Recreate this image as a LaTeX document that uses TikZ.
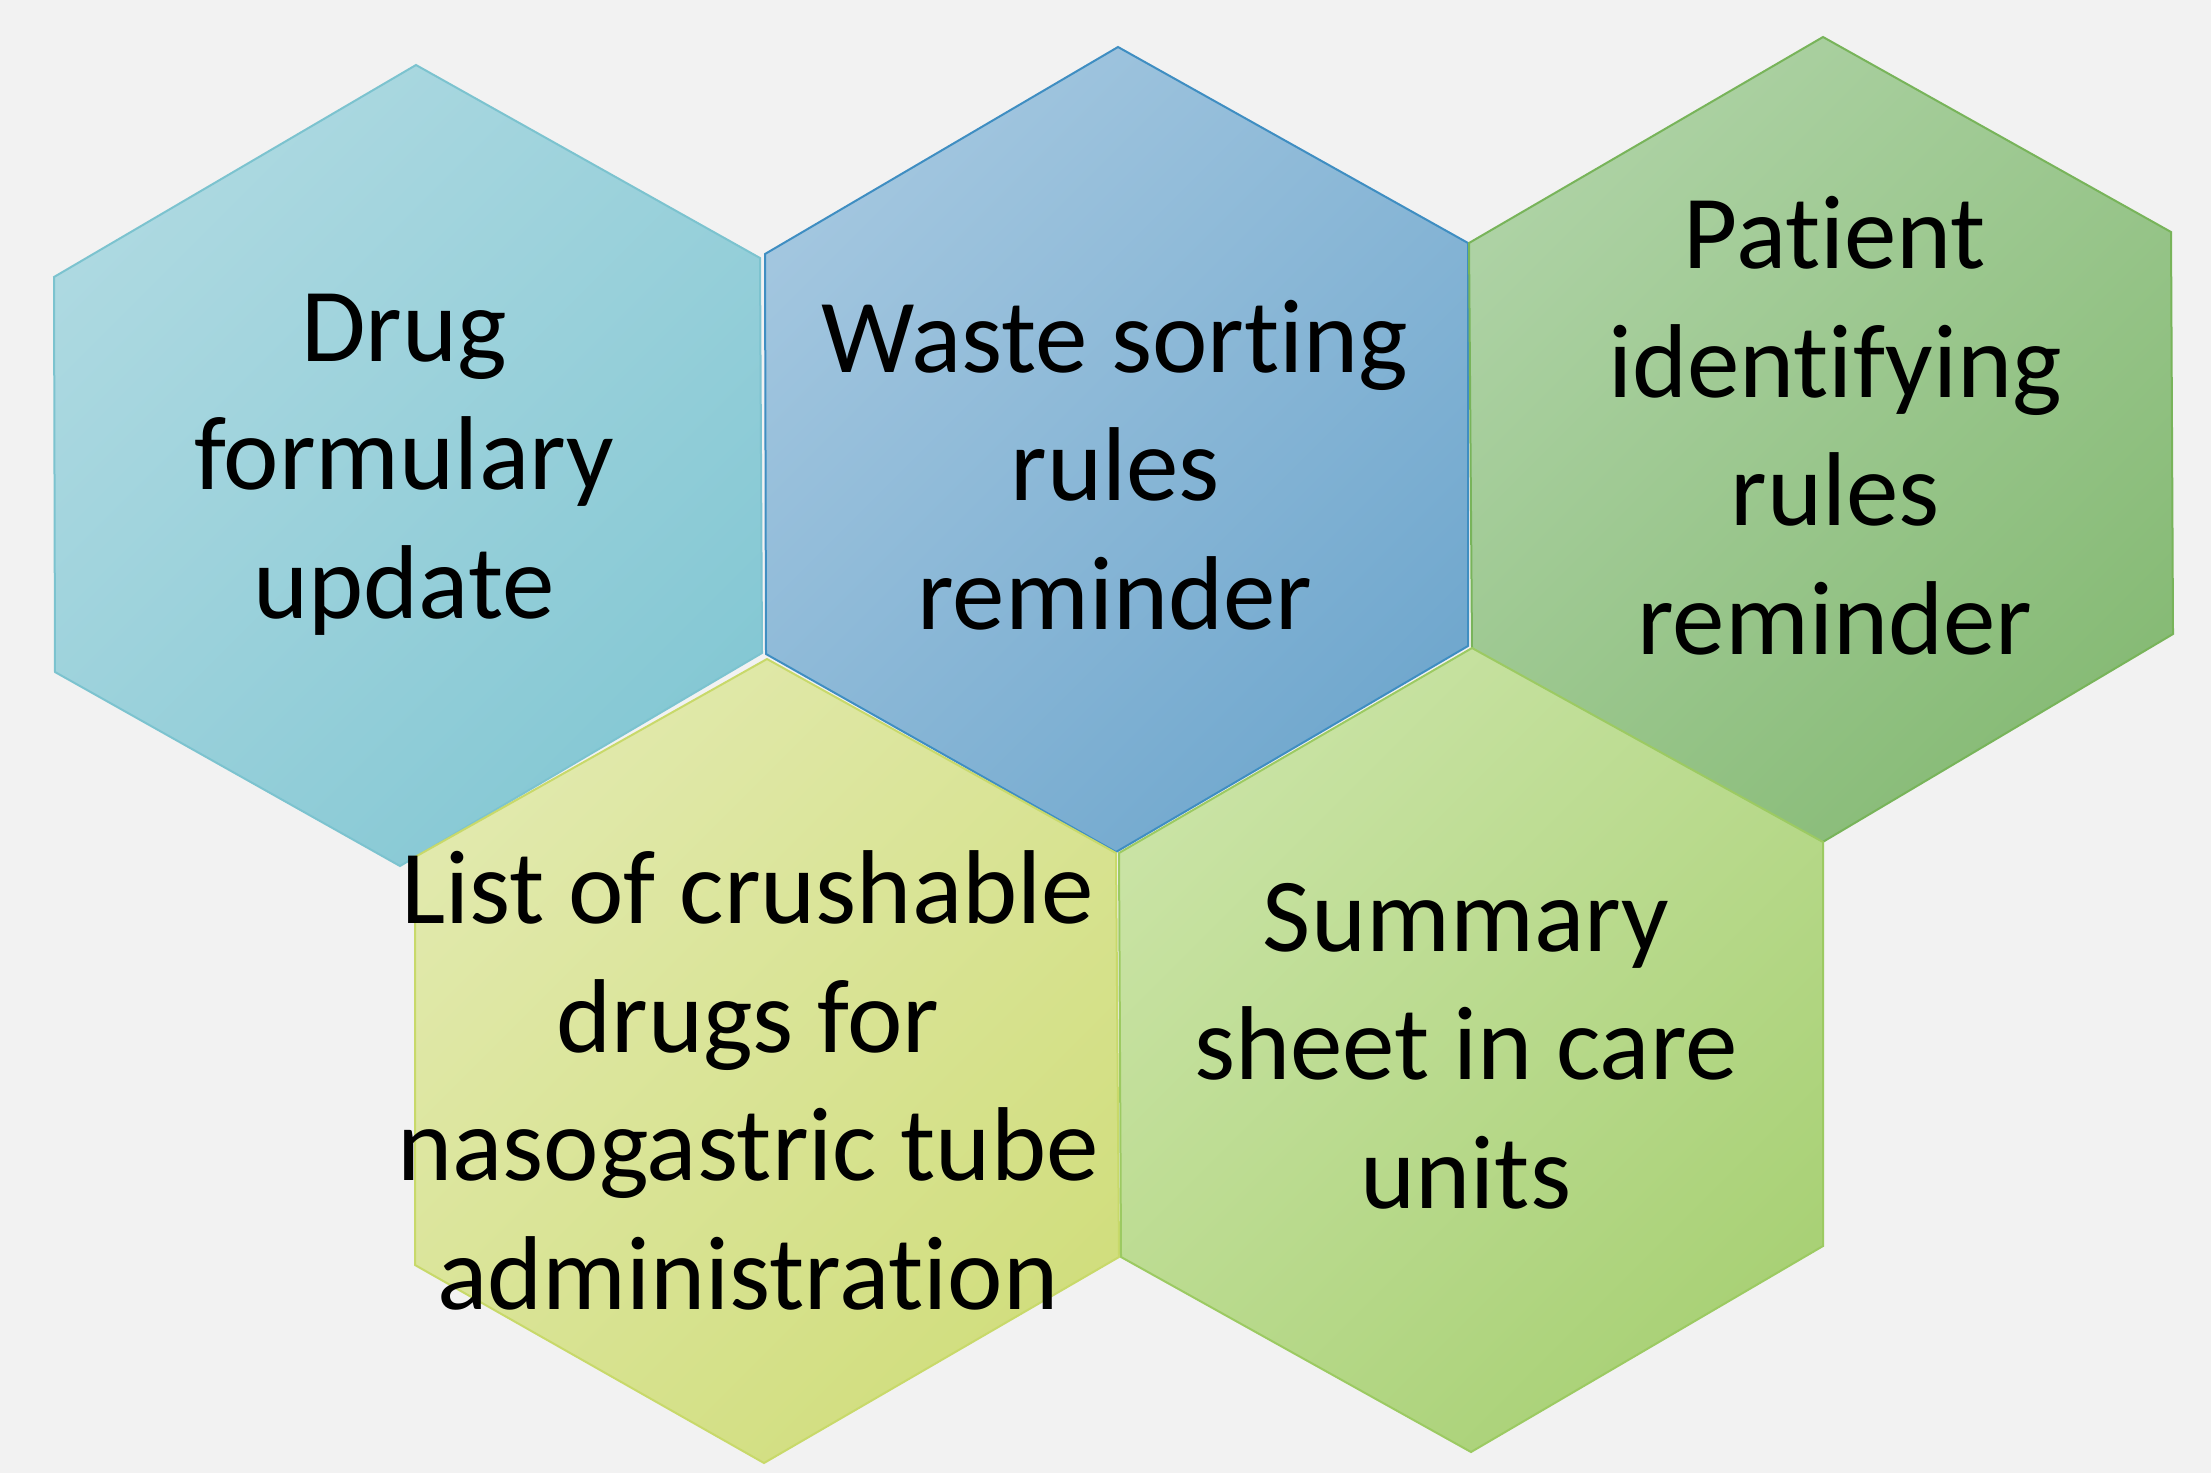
\documentclass[tikz,border=0pt]{standalone}
\usepackage{fontspec}
\setmainfont{Carlito}[Ligatures=NoCommon]
\definecolor{bg}{HTML}{F2F2F2}
\definecolor{c1a}{HTML}{ADD9E1}
\definecolor{c1b}{HTML}{85C8D4}
\definecolor{c1o}{HTML}{7CC3CF}
\definecolor{c2a}{HTML}{A2C6DF}
\definecolor{c2b}{HTML}{71A8CE}
\definecolor{c2o}{HTML}{3F8EC2}
\definecolor{c3a}{HTML}{ADD2A4}
\definecolor{c3b}{HTML}{87BB76}
\definecolor{c3o}{HTML}{78B45A}
\definecolor{c4a}{HTML}{E1E9AC}
\definecolor{c4b}{HTML}{D1DE7E}
\definecolor{c4o}{HTML}{C8D96A}
\definecolor{c5a}{HTML}{C9E3A4}
\definecolor{c5b}{HTML}{A9D176}
\definecolor{c5o}{HTML}{9CCA62}
\tikzset{
  hexagon/.style={line width=2pt, line join=miter},
  lbl/.style={font=\fontsize{105}{128.5}\selectfont, align=center, inner sep=0pt, text=black}
}
\begin{document}
\begin{tikzpicture}[x=1pt,y=1pt]
\fill[bg] (0,0) rectangle (2211,-1473);
\useasboundingbox (0,0) rectangle (2211,-1473);
% hexagon 1
\shadedraw[hexagon, top color=c1a, bottom color=c1b, shading angle=45, draw=c1o]
  (416,-65) -- (760,-258) -- (762,-653) -- (400,-866) -- (55,-672) -- (54,-277) -- cycle;
% hexagon 2
\shadedraw[hexagon, top color=c2a, bottom color=c2b, shading angle=45, draw=c2o]
  (1118,-47) -- (1468,-243) -- (1468,-646) -- (1116,-852) -- (766,-654) -- (765,-254) -- cycle;
% hexagon 3
\shadedraw[hexagon, top color=c3a, bottom color=c3b, shading angle=45, draw=c3o]
  (1823,-37) -- (2171,-232) -- (2173,-634) -- (1821,-843) -- (1472,-649) -- (1469,-243) -- cycle;
% hexagon 4
\shadedraw[hexagon, top color=c4a, bottom color=c4b, shading angle=45, draw=c4o]
  (767,-659) -- (1116,-853) -- (1119,-1257) -- (764,-1463) -- (415,-1265) -- (415,-857) -- cycle;
% hexagon 5
\shadedraw[hexagon, top color=c5a, bottom color=c5b, shading angle=45, draw=c5o]
  (1472,-648) -- (1823,-842) -- (1823,-1246) -- (1471,-1452) -- (1121,-1257) -- (1119,-853) -- cycle;
% labels
\node[lbl] (t1) at (404,-464) {\strut Drug\\formulary\\update\strut};
\node[lbl] (t2) at (1115,-475) {\strut Waste sorting\\rules\\reminder\strut};
\node[lbl] (t3) at (1835,-436) {\strut Patient\\identifying\\rules\\reminder\strut};
\node[lbl] (t4) at (748,-1091) {\strut List of crushable\\drugs for\\nasogastric tube\\administration\strut};
\node[lbl] (t5) at (1466,-1054) {\strut Summary\\sheet in care\\units\strut};
\end{tikzpicture}
\end{document}
